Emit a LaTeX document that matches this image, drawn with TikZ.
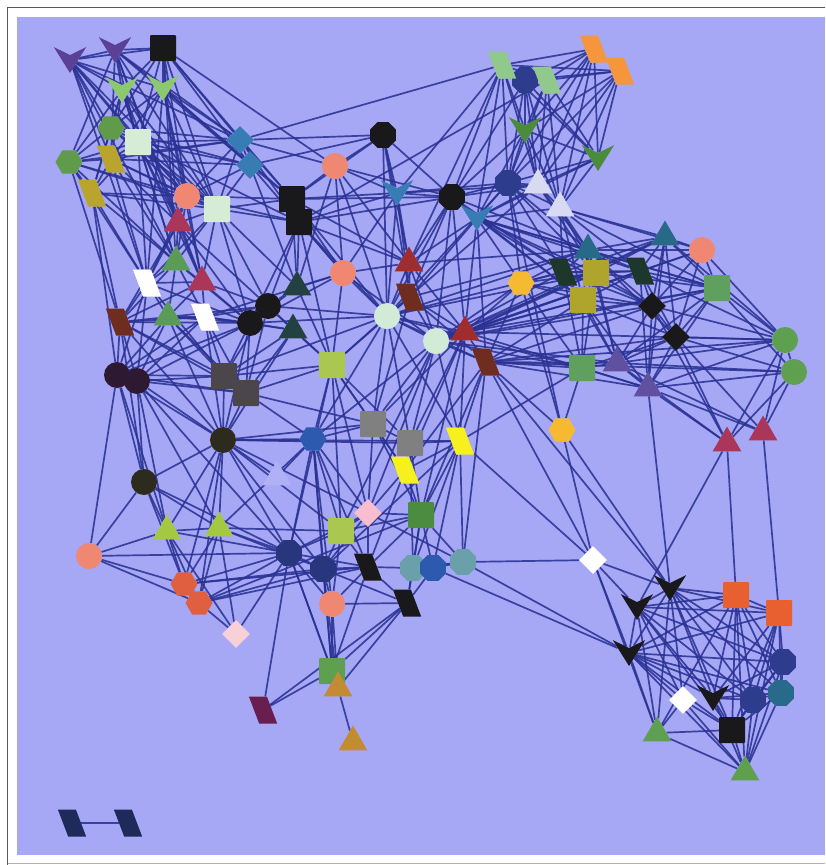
\documentclass[tikz,border=0pt]{standalone}
\usepackage{xcolor}
\usepackage{tikz}
\usetikzlibrary{shapes.geometric}
\definecolor{lavbg}{RGB}{166,167,245}
\definecolor{linkblue}{RGB}{42,50,148}
\definecolor{pdart}{RGB}{90,65,150}
\definecolor{lgdart}{RGB}{140,200,110}
\definecolor{nblack}{RGB}{25,25,28}
\definecolor{ghex}{RGB}{95,155,75}
\definecolor{mint}{RGB}{215,236,215}
\definecolor{olive}{RGB}{185,165,45}
\definecolor{steel}{RGB}{55,125,180}
\definecolor{salmon}{RGB}{240,135,115}
\definecolor{crim}{RGB}{170,55,90}
\definecolor{grtri}{RGB}{90,155,85}
\definecolor{redtri}{RGB}{160,45,45}
\definecolor{brownp}{RGB}{110,45,30}
\definecolor{slate}{RGB}{35,65,65}
\definecolor{lgpara}{RGB}{145,200,140}
\definecolor{navy}{RGB}{45,60,140}
\definecolor{orangep}{RGB}{245,150,60}
\definecolor{gdart}{RGB}{75,140,60}
\definecolor{paletri}{RGB}{215,218,240}
\definecolor{tealtri}{RGB}{40,105,135}
\definecolor{darkp}{RGB}{30,55,45}
\definecolor{olivesq}{RGB}{175,165,45}
\definecolor{yhex}{RGB}{245,185,50}
\definecolor{greensq}{RGB}{95,160,95}
\definecolor{purptri}{RGB}{95,80,160}
\definecolor{greenc}{RGB}{95,160,80}
\definecolor{mintc}{RGB}{210,235,215}
\definecolor{lime}{RGB}{170,200,80}
\definecolor{dpurple}{RGB}{45,25,50}
\definecolor{dgray}{RGB}{75,70,75}
\definecolor{dolive}{RGB}{45,42,30}
\definecolor{bluehex}{RGB}{45,90,175}
\definecolor{midgray}{RGB}{128,128,128}
\definecolor{yellowp}{RGB}{245,240,30}
\definecolor{limetri}{RGB}{165,200,65}
\definecolor{pinkd}{RGB}{248,190,205}
\definecolor{navyc}{RGB}{40,55,125}
\definecolor{tealhex}{RGB}{105,160,170}
\definecolor{redhex}{RGB}{225,95,65}
\definecolor{lpink}{RGB}{248,208,216}
\definecolor{greensq2}{RGB}{75,140,65}
\definecolor{ochre}{RGB}{195,140,50}
\definecolor{plum}{RGB}{105,30,80}
\definecolor{orangesq}{RGB}{232,96,48}
\definecolor{tealhex2}{RGB}{40,105,140}
\definecolor{legnavy}{RGB}{30,42,90}
\definecolor{ghost}{RGB}{176,176,246}
\pgfdeclarelayer{back}
\pgfdeclarelayer{links}
\pgfsetlayers{back,links,main}
\tikzset{
	nd/.style={draw=none, inner sep=0pt, fill=#1},
	circ/.style={nd=#1, circle, minimum size=26pt},
	octa/.style={nd=#1, regular polygon, regular polygon sides=8, minimum size=28pt},
	hexa/.style={nd=#1, regular polygon, regular polygon sides=6, minimum size=27pt},
	sq/.style={nd=#1, rectangle, rounded corners=1pt, minimum size=26pt},
	tri/.style={nd=#1, regular polygon, regular polygon sides=3, minimum size=33pt},
	dia/.style={nd=#1, diamond, minimum size=28pt},
	para/.style={nd=#1, rectangle, minimum width=18pt, minimum height=27pt, xslant=-0.38},
	dartnode/.style={nd=#1, dart, dart tip angle=64, dart tail angle=124, inner sep=5pt, shape border rotate=270},
	link/.style={draw=linkblue, line width=1.7pt, opacity=0.88},
}

\begin{document}
\begin{tikzpicture}[x=1pt, y=-1pt]
	\useasboundingbox (0,0) rectangle (825,865);
	\begin{pgfonlayer}{back}
		\fill[white] (0,0) rectangle (825,865);
		\fill[lavbg] (17,17) rectangle (825,855);
		\draw[gray!70!black, line width=1.2pt] (7.5,865) -- (7.5,7.5) -- (825,7.5);
		\draw[gray!60, line width=0.8pt] (7.5,863) -- (825,863);
	\end{pgfonlayer}

	% top left group
	\node[dartnode=pdart] (va) at (70,60) {};
	\node[dartnode=pdart] (vb) at (115,50) {};
	\node[sq=nblack] (ka) at (163,48) {};
	\node[dartnode=lgdart] (vc) at (122,90) {};
	\node[dartnode=lgdart] (vd) at (163,88) {};
	\node[hexa=ghex] (ha) at (111,128) {};
	\node[sq=mint] (ma) at (138,142) {};
	\node[hexa=ghex] (hb) at (69,162) {};
	\node[para=olive] (pa) at (111,159) {};
	\node[para=olive] (pb) at (92,193) {};
	\node[dia=steel] (da) at (240,140) {};
	\node[dia=steel] (db) at (250,165) {};
	\node[circ=salmon] (ca) at (187,196) {};
	\node[sq=mint] (mb) at (217,209) {};
	\node[tri=crim] (ta) at (178,223) {};
	\node[tri=grtri] (tb) at (176,262) {};
	\node[tri=crim] (tc) at (202,282) {};
	\node[para=white] (wa) at (147,283) {};
	\node[sq=nblack] (kb) at (292,199) {};
	\node[sq=nblack] (kc) at (299,222) {};
	\node[octa=nblack] (oa) at (383,135) {};
	\node[circ=salmon] (cb) at (335,166) {};
	\node[dartnode=steel] (vl) at (397,193) {};
	\node[circ=salmon] (cc) at (343,273) {};
	\node[tri=redtri] (td) at (409,263) {};
	\node[para=brownp] (pc) at (410,297) {};
	\node[tri=slate] (te) at (297,287) {};

	% top right group
	\node[octa=navy] (ob) at (525,80) {};
	\node[para=lgpara] (pd) at (502,65) {};
	\node[para=lgpara] (pe) at (547,80) {};
	\node[para=orangep] (pf) at (594,49) {};
	\node[para=orangep] (pg) at (620,71) {};
	\node[dartnode=gdart] (ve) at (525,130) {};
	\node[dartnode=gdart] (vf) at (598,158) {};
	\node[octa=navy] (oc) at (508,183) {};
	\node[tri=paletri] (tf) at (538,185) {};
	\node[tri=paletri] (tg) at (560,208) {};
	\node[octa=nblack] (od) at (452,197) {};
	\node[dartnode=steel] (vg) at (477,218) {};

	% right middle group
	\node[tri=tealtri] (th) at (588,250) {};
	\node[tri=tealtri] (ti) at (665,237) {};
	\node[circ=salmon] (cd) at (702,250) {};
	\node[para=darkp] (ph) at (563,272) {};
	\node[para=darkp] (pi) at (640,271) {};
	\node[sq=olivesq] (sa) at (596,273) {};
	\node[sq=olivesq] (sb) at (583,300) {};
	\node[hexa=yhex] (hc) at (521,283) {};
	\node[sq=greensq] (sc) at (717,288) {};
	\node[dia=nblack] (dc) at (652,306) {};
	\node[dia=nblack] (dd) at (676,337) {};
	\node[sq=greensq] (sd) at (582,368) {};
	\node[tri=purptri] (tj) at (617,363) {};
	\node[tri=purptri] (tk) at (648,388) {};
	\node[circ=greenc] (ce) at (785,340) {};
	\node[circ=greenc] (cf) at (794,372) {};
	\node[tri=crim] (tl) at (727,443) {};
	\node[tri=crim] (tm) at (763,432) {};
	\node[hexa=yhex] (hd) at (562,430) {};

	% middle group
	\node[para=brownp] (pj) at (120,322) {};
	\node[tri=grtri] (tn) at (168,317) {};
	\node[para=white] (wb) at (205,317) {};
	\node[circ=nblack] (cg) at (268,306) {};
	\node[circ=nblack] (ch) at (250,323) {};
	\node[tri=slate] (tx) at (293,330) {};
	\node[circ=mintc] (ci) at (387,316) {};
	\node[circ=mintc] (cj) at (436,341) {};
	\node[tri=redtri] (tp) at (465,332) {};
	\node[para=brownp] (pk) at (486,362) {};
	\node[sq=lime] (se) at (332,365) {};
	\node[circ=dpurple] (ck) at (117,375) {};
	\node[circ=dpurple] (cl) at (137,381) {};
	\node[sq=dgray] (sf) at (224,376) {};
	\node[sq=dgray] (sg) at (246,393) {};
	\node[circ=dolive] (cz) at (223,440) {};
	\node[hexa=bluehex] (he) at (313,439) {};
	\node[sq=midgray] (sh) at (373,424) {};
	\node[sq=midgray] (si) at (410,443) {};
	\node[para=yellowp] (pl) at (460,441) {};
	\node[para=yellowp] (pm) at (405,470) {};
	\node[tri=ghost] (tq) at (277,477) {};
	\node[circ=dolive] (cn) at (144,482) {};
	\node[tri=limetri] (tr) at (167,531) {};
	\node[tri=limetri] (ts) at (219,528) {};
	\node[circ=salmon] (co) at (89,556) {};
	\node[dia=pinkd] (de) at (368,513) {};
	\node[sq=lime] (sj) at (341,531) {};
	\node[sq=greensq2] (sk) at (421,515) {};
	\node[octa=navyc] (cp) at (289,553) {};
	\node[octa=navyc] (cq) at (323,569) {};
	\node[para=nblack] (pn) at (368,567) {};
	\node[octa=tealhex] (hf) at (413,568) {};
	\node[octa=bluehex] (hg) at (433,568) {};
	\node[octa=tealhex] (hh) at (463,562) {};
	\node[hexa=redhex] (hi) at (184,584) {};
	\node[hexa=redhex] (hj) at (199,603) {};
	\node[dia=lpink] (df) at (236,634) {};
	\node[circ=salmon] (cr) at (332,604) {};
	\node[para=nblack] (po) at (407,603) {};
	\node[sq=greenc] (sl) at (332,671) {};
	\node[tri=ochre] (tt) at (338,688) {};
	\node[tri=ochre] (tu) at (353,742) {};
	\node[para=plum] (pp) at (263,710) {};
	\node[dia=white] (dg) at (593,560) {};

	% bottom right group
	\node[dartnode=nblack] (vh) at (670,588) {};
	\node[dartnode=nblack] (vi) at (637,607) {};
	\node[dartnode=nblack] (vj) at (629,653) {};
	\node[dartnode=nblack] (vk) at (713,698) {};
	\node[sq=orangesq] (sm) at (736,595) {};
	\node[sq=orangesq] (sn) at (779,613) {};
	\node[octa=navy] (hk) at (783,662) {};
	\node[octa=navy] (hl) at (753,700) {};
	\node[octa=tealhex2] (hm) at (781,693) {};
	\node[dia=white] (dh) at (683,700) {};
	\node[sq=nblack] (so) at (732,730) {};
	\node[tri=greenc] (tv) at (657,733) {};
	\node[tri=greenc] (tw) at (745,772) {};

	% legend pair
	\node[para=legnavy] (pq) at (72,823) {};
	\node[para=legnavy] (pr) at (128,823) {};

	\begin{pgfonlayer}{links}
		\draw[link] (va) edge (vb) edge (ka) edge (vc) edge (vd) edge (ha) edge (ma) edge (pa) edge (mb) edge (ca) edge (da) edge (tb) edge (wa);
		\draw[link] (vb) edge (ka) edge (vc) edge (vd) edge (ma) edge (hb) edge (pa) edge (da) edge (db) edge (ta) edge (mb) edge (tc);
		\draw[link] (ka) edge (vc) edge (vd) edge (ha) edge (ma) edge (da) edge (db) edge (ca) edge (mb) edge (ta) edge (kb) edge (tb) edge (cb);
		\draw[link] (vc) edge (ha) edge (ma) edge (hb) edge (pa) edge (pb) edge (ca) edge (mb) edge (tb) edge (ta);
		\draw[link] (vd) edge (ma) edge (ha) edge (pa) edge (db) edge (ca) edge (mb) edge (tc) edge (wa) edge (da) edge (kb);
		\draw[link] (ha) edge (hb) edge (ma) edge (da) edge (ca) edge (mb) edge (pb) edge (db);
		\draw[link] (ma) edge (hb) edge (pa) edge (pb) edge (da) edge (db) edge (ca) edge (mb) edge (ta) edge (tb) edge (tc) edge (wa) edge (kc);
		\draw[link] (hb) edge (pa) edge (pb) edge (da) edge (ca) edge (mb) edge (tb) edge (pj) edge (wa);
		\draw[link] (pa) edge (pb) edge (da) edge (db) edge (ca) edge (mb) edge (ta) edge (wa) edge (tb);
		\draw[link] (pb) edge (ca) edge (mb) edge (tb) edge (wa) edge (ck) edge (pj);
		\draw[link] (da) edge (db) edge (oa) edge (cb) edge (mb) edge (kb) edge (kc) edge (ca) edge (pd);
		\draw[link] (db) edge (oa) edge (ca) edge (mb) edge (kb) edge (te) edge (cc);
		\draw[link] (ca) edge (mb) edge (ta) edge (tb) edge (tc) edge (wa) edge (kb) edge (kc);
		\draw[link] (mb) edge (ta) edge (tb) edge (tc) edge (wa) edge (kb) edge (kc) edge (cg) edge (te) edge (ch);
		\draw[link] (ta) edge (tb) edge (tc) edge (wa) edge (ch) edge (cg) edge (pj);
		\draw[link] (tb) edge (tc) edge (wa) edge (pj) edge (tn) edge (wb) edge (ch);
		\draw[link] (tc) edge (wa) edge (pj) edge (tn) edge (wb) edge (ch) edge (cg);
		\draw[link] (wa) edge (pj) edge (tn) edge (ck) edge (cl) edge (ch) edge (sf);
		\draw[link] (oa) edge (od) edge (cb) edge (vl) edge (ci) edge (pc) edge (kb) edge (td);
		\draw[link] (cb) edge (kb) edge (vl) edge (od) edge (cc) edge (td) edge (ci) edge (te);
		\draw[link] (vl) edge (od) edge (kb) edge (kc) edge (ci) edge (pc) edge (tf) edge (oc) edge (pd) edge (td) edge (cc);
		\draw[link] (kb) edge (kc) edge (cc) edge (td) edge (od) edge (te) edge (ci);
		\draw[link] (kc) edge (te) edge (cc) edge (cg) edge (ch) edge (td) edge (ci) edge (pe) edge (se);
		\draw[link] (cc) edge (td) edge (se) edge (ci) edge (te) edge (ch) edge (wb) edge (cj);
		\draw[link] (td) edge (pc) edge (ci) edge (cj) edge (tp) edge (od);
		\draw[link] (pc) edge (ci) edge (cj) edge (tp) edge (se) edge (pk) edge (sh);
		\draw[link] (te) edge (se) edge (ch) edge (cg);
		\draw[link] (pd) edge (ob) edge (pe) edge (pf) edge (pg) edge (ve) edge (oc) edge (vf) edge (tf) edge (od) edge (vg) edge (td);
		\draw[link] (ob) edge (pe) edge (pf) edge (pg) edge (ve) edge (oc) edge (tf) edge (tg) edge (vf) edge (od);
		\draw[link] (pe) edge (pf) edge (pg) edge (ve) edge (vf) edge (oc) edge (tf) edge (tg);
		\draw[link] (pf) edge (pg) edge (ve) edge (vf) edge (oc) edge (tf) edge (tg);
		\draw[link] (pg) edge (ve) edge (vf) edge (tf) edge (tg) edge (oc);
		\draw[link] (ve) edge (vf) edge (oc) edge (tf) edge (tg) edge (od) edge (vg);
		\draw[link] (vf) edge (oc) edge (tf) edge (tg) edge (vg);
		\draw[link] (oc) edge (tf) edge (tg) edge (od) edge (vg) edge (th) edge (ph) edge (sa) edge (hc) edge (hd) edge (ci);
		\draw[link] (tf) edge (tg) edge (od) edge (vg) edge (th) edge (sa) edge (ci);
		\draw[link] (tg) edge (vg) edge (ti) edge (cd) edge (th) edge (ph) edge (sa) edge (sb) edge (sc) edge (pi);
		\draw[link] (od) edge (vg) edge (ci) edge (pc) edge (th) edge (ph) edge (sb) edge (kc) edge (cj) edge (tp);
		\draw[link] (vg) edge (th) edge (ph) edge (pi) edge (sa) edge (sb) edge (hc) edge (td) edge (pc) edge (dc) edge (sc) edge (tp) edge (pk);
		\draw[link] (th) edge (ti) edge (cd) edge (ph) edge (pi) edge (sa) edge (sb) edge (hc) edge (dc) edge (dd) edge (sc) edge (tj) edge (td) edge (pc) edge (ci);
		\draw[link] (ti) edge (cd) edge (ph) edge (pi) edge (sa) edge (sc) edge (dc) edge (dd) edge (ce) edge (tk) edge (tp) edge (cj);
		\draw[link] (cd) edge (sc) edge (pi) edge (dc) edge (dd) edge (ce) edge (tp);
		\draw[link] (ph) edge (pi) edge (sa) edge (sb) edge (hc) edge (dc) edge (sd) edge (tj) edge (ci) edge (cj);
		\draw[link] (pi) edge (sa) edge (sb) edge (sc) edge (dc) edge (dd) edge (ce) edge (tk) edge (cj) edge (tp);
		\draw[link] (sa) edge (sb) edge (hc) edge (sc) edge (dc) edge (sd) edge (tj) edge (ci) edge (cj) edge (tp);
		\draw[link] (sb) edge (hc) edge (dc) edge (dd) edge (sd) edge (tj) edge (tk) edge (pk) edge (cj) edge (tp);
		\draw[link] (hc) edge (sd) edge (dc) edge (pk) edge (tp) edge (cj) edge (hd);
		\draw[link] (sc) edge (dc) edge (dd) edge (ce) edge (cf) edge (tj) edge (tk) edge (cj) edge (tp);
		\draw[link] (dc) edge (dd) edge (tj) edge (tk) edge (ce) edge (tl) edge (cj) edge (pk);
		\draw[link] (dd) edge (tj) edge (tk) edge (ce) edge (cf) edge (tl) edge (tm) edge (sd) edge (pk);
		\draw[link] (sd) edge (tj) edge (tk) edge (pk) edge (ci) edge (pl) edge (cj) edge (hd);
		\draw[link] (tj) edge (tk) edge (ce) edge (cf) edge (tl) edge (tm) edge (cj) edge (pk);
		\draw[link] (tk) edge (ce) edge (cf) edge (tl) edge (tm) edge (vh) edge (tp) edge (pk);
		\draw[link] (ce) edge (cf) edge (tl) edge (tm) edge (tp) edge (pk);
		\draw[link] (cf) edge (tl) edge (tm) edge (pk);
		\draw[link] (tl) edge (vi) edge (sm);
		\draw[link] (tm) edge (sn);
		\draw[link] (hd) edge (pk) edge (vh) edge (dg);
		\draw[link] (pj) edge (tn) edge (wb) edge (ck) edge (cl) edge (sf) edge (ch) edge (cz) edge (cn) edge (sg);
		\draw[link] (tn) edge (wb) edge (ck) edge (cl) edge (sf) edge (sg) edge (ch) edge (cg) edge (cz);
		\draw[link] (wb) edge (cg) edge (ch) edge (tx) edge (sf) edge (sg) edge (ck) edge (cl) edge (cz);
		\draw[link] (cg) edge (ch) edge (tx) edge (sf) edge (sg) edge (se) edge (ci);
		\draw[link] (ch) edge (tx) edge (sf) edge (sg) edge (cz) edge (ci) edge (cl) edge (ck);
		\draw[link] (tx) edge (sf) edge (sg) edge (se) edge (cz);
		\draw[link] (ck) edge (cl) edge (sf) edge (cz) edge (cn) edge (tr) edge (co) edge (sg);
		\draw[link] (cl) edge (sf) edge (sg) edge (cz) edge (cn) edge (tr) edge (ts) edge (cp);
		\draw[link] (sf) edge (sg) edge (cz) edge (ci) edge (se);
		\draw[link] (sg) edge (cz) edge (he) edge (se) edge (sh);
		\draw[link] (cz) edge (cn) edge (tr) edge (ts) edge (he) edge (cp) edge (cq) edge (hi) edge (pl) edge (sj) edge (de) edge (tq) edge (sh) edge (si) edge (hj);
		\draw[link] (cn) edge (tr) edge (ts) edge (co) edge (hi) edge (cp);
		\draw[link] (tr) edge (ts) edge (co) edge (hi) edge (hj) edge (df) edge (cp);
		\draw[link] (ts) edge (hi) edge (hj) edge (df) edge (sj) edge (cp) edge (cq) edge (he);
		\draw[link] (co) edge (hi) edge (hj) edge (cp);
		\draw[link] (hi) edge (hj) edge (cp) edge (pn) edge (cq);
		\draw[link] (hj) edge (df) edge (cq) edge (pn) edge (sk) edge (cp);
		\draw[link] (ci) edge (cj) edge (tp) edge (pk) edge (se) edge (sh) edge (si) edge (pl) edge (he);
		\draw[link] (cj) edge (tp) edge (pk) edge (si) edge (pl) edge (sj) edge (de) edge (sh) edge (he);
		\draw[link] (tp) edge (pk) edge (pl) edge (si) edge (pm) edge (sh) edge (sk);
		\draw[link] (pk) edge (pl) edge (pm) edge (dg) edge (vh) edge (sk) edge (hh);
		\draw[link] (se) edge (sh) edge (si) edge (he) edge (cp) edge (sj) edge (pm) edge (de);
		\draw[link] (he) edge (sh) edge (cq) edge (cp) edge (pn) edge (sl) edge (cr) edge (tq) edge (de) edge (sj);
		\draw[link] (sh) edge (si) edge (pm) edge (de) edge (sk);
		\draw[link] (si) edge (pl) edge (pm) edge (sk) edge (hf);
		\draw[link] (pl) edge (pm) edge (sk) edge (hf) edge (hg) edge (hh) edge (cq) edge (dg);
		\draw[link] (pm) edge (sk) edge (de) edge (pn);
		\draw[link] (de) edge (sj) edge (sk) edge (pn) edge (cq) edge (cp) edge (hh);
		\draw[link] (sj) edge (sk) edge (cp) edge (cq) edge (pn) edge (cr);
		\draw[link] (sk) edge (pn) edge (hf) edge (hg) edge (hh) edge (po);
		\draw[link] (cp) edge (cq) edge (pn) edge (cr) edge (sl) edge (pp) edge (df) edge (tt);
		\draw[link] (cq) edge (pn) edge (cr) edge (sl) edge (tt) edge (po);
		\draw[link] (pn) edge (cr) edge (po) edge (hf) edge (sl);
		\draw[link] (hf) edge (hg) edge (hh) edge (po);
		\draw[link] (hg) edge (hh) edge (vj) edge (po);
		\draw[link] (hh) edge (vj) edge (dg);
		\draw[link] (cr) edge (po) edge (sl) edge (tt);
		\draw[link] (po) edge (sl) edge (tt) edge (pp);
		\draw[link] (sl) edge (tt) edge (pp);
		\draw[link] (tt) edge (tu);
		\draw[link] (dg) edge (vi) edge (vj) edge (vh) edge (tv);
		\draw[link] (vh) edge (vi) edge (vj) edge (vk) edge (sm) edge (sn) edge (hk) edge (hl) edge (hm) edge (dh) edge (so) edge (tv);
		\draw[link] (vi) edge (vj) edge (vk) edge (sm) edge (sn) edge (hk) edge (hl) edge (dh) edge (so) edge (tv);
		\draw[link] (vj) edge (vk) edge (sm) edge (sn) edge (hk) edge (hl) edge (hm) edge (dh) edge (so) edge (tv) edge (tw);
		\draw[link] (vk) edge (sm) edge (sn) edge (hk) edge (hl) edge (hm) edge (so) edge (tw);
		\draw[link] (sm) edge (sn) edge (hk) edge (hl) edge (hm) edge (so) edge (tw) edge (tv);
		\draw[link] (sn) edge (hk) edge (hl) edge (hm) edge (so) edge (tw);
		\draw[link] (hk) edge (hl) edge (hm) edge (so) edge (tw);
		\draw[link] (hl) edge (hm) edge (so) edge (tw);
		\draw[link] (hm) edge (so) edge (tw);
		\draw[link] (dh) edge (so) edge (tv) edge (tw);
		\draw[link] (so) edge (tv) edge (tw);
		\draw[link] (tv) edge (tw);
		\draw[link] (pq) edge (pr);
	\end{pgfonlayer}
\end{tikzpicture}
\end{document}
